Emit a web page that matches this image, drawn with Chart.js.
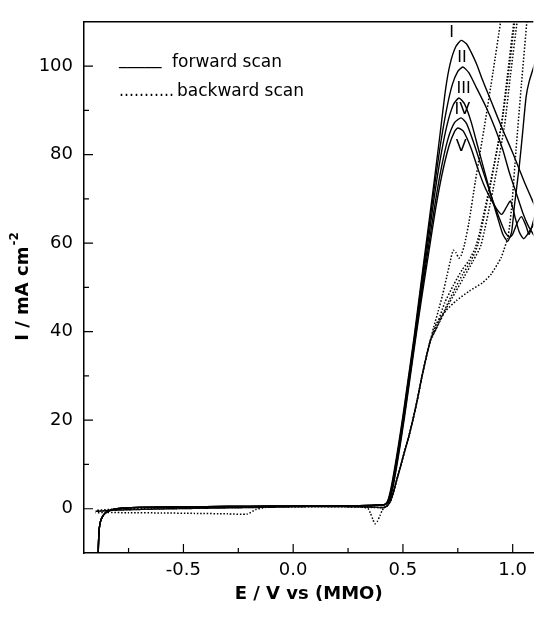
<!DOCTYPE html>
<html><head><meta charset="utf-8">
<script src="https://cdn.jsdelivr.net/npm/chart.js@4/dist/chart.umd.min.js"></script>
<style>html,body{margin:0;padding:0;background:#fff;overflow:hidden}#wrap{position:relative;width:534px;height:626px}</style>
</head><body><div id="wrap"><canvas id="c"></canvas></div>
<script>
// ---- tick values ----
const xMajorTicks = [-0.5, 0, 0.5, 1.0];
const xMinorTicks = [-0.75, -0.25, 0.25, 0.75];
const yMajorTicks = [0, 20, 40, 60, 80, 100];
const yMinorTicks = [10, 30, 50, 70, 90];

// ---- scan names ----
const scanNames = ['I', 'II', 'III', 'IV', 'V'];

// ---- forward scans (E / V, I / mA cm-2) ----
const forwardStart = [[-0.889,-30],[-0.888,-10],[-0.886,-6.5],[-0.883,-4.3],[-0.878,-2.9],[-0.870,-1.9],[-0.858,-1.1],[-0.843,-0.55],[-0.82,-0.15],[-0.78,0.1],[-0.70,0.3],[-0.50,0.4],[-0.30,0.5],[-0.10,0.55],[0.10,0.6],[0.30,0.7],[0.40,0.85],[0.42,1.0]];
const forwardI = [[0.432,2.0],[0.445,4.5],[0.46,8.5],[0.48,14.5],[0.50,21],[0.52,28],[0.55,38.5],[0.58,50],[0.61,61.5],[0.64,73],[0.67,85],[0.695,95],[0.715,100.5],[0.74,104.3],[0.765,105.8],[0.79,105],[0.81,103.2],[0.835,100.5],[0.86,97.2],[0.89,93.5],[0.925,89.2],[0.96,85],[1.0,80.4],[1.03,76.7],[1.06,73],[1.10,68.5]];
const forwardII = [[0.434,2.0],[0.447,4.5],[0.462,8.5],[0.482,14.5],[0.502,21],[0.522,28],[0.552,38.5],[0.582,50],[0.612,61],[0.64,71.5],[0.67,82],[0.70,90.5],[0.725,95.8],[0.75,98.8],[0.773,99.8],[0.80,98.5],[0.834,95.2],[0.879,90.7],[0.917,86.3],[0.955,81.1],[0.985,75.9],[1.015,71.5],[1.045,67],[1.07,64],[1.10,61.5]];
const forwardIII = [[0.436,2.0],[0.449,4.5],[0.464,8.5],[0.484,14.5],[0.504,21],[0.524,28],[0.554,38.5],[0.584,49.5],[0.614,60],[0.64,69.5],[0.67,79],[0.70,86.5],[0.73,91.3],[0.755,92.8],[0.78,91.5],[0.81,87.5],[0.84,82],[0.87,76.5],[0.90,71],[0.93,66],[0.955,62],[0.977,60.4],[0.995,62.5],[1.008,68.5],[1.03,77.4],[1.045,84.8],[1.061,93],[1.075,96.5],[1.10,100.5]];
const forwardIV = [[0.438,2.0],[0.451,4.5],[0.466,8.5],[0.486,14.5],[0.506,21],[0.526,28],[0.556,38.5],[0.586,49],[0.616,59],[0.645,68.5],[0.675,77],[0.705,83.5],[0.735,87.2],[0.765,88.3],[0.79,87],[0.82,83],[0.85,78.5],[0.88,74],[0.91,69.5],[0.94,65.5],[0.965,62.5],[0.985,61.3],[1.0,62],[1.02,64.5],[1.04,66],[1.06,64],[1.075,62],[1.10,66]];
const forwardV = [[0.44,2.0],[0.453,4.5],[0.468,8.5],[0.488,14.5],[0.508,21],[0.528,28],[0.558,38.5],[0.588,48.5],[0.618,58],[0.648,67.5],[0.678,75.5],[0.71,82],[0.735,85.2],[0.75,86],[0.775,85.3],[0.81,81.5],[0.84,77],[0.87,73],[0.90,70],[0.93,67.5],[0.95,66.5],[0.97,68],[0.99,69.5],[1.01,66],[1.03,62.5],[1.05,61],[1.065,61.8],[1.08,63],[1.10,64.5]];

// ---- backward scans (high potential -> low) ----
const backwardI = [[1.0,128],[0.947,110.7],[0.91,98.5],[0.871,86.3],[0.83,74],[0.80,64.5],[0.78,59.6],[0.765,57.2],[0.755,56.6],[0.742,57.8],[0.729,58.4],[0.716,56],[0.70,52.5],[0.68,48.2],[0.66,44.5],[0.64,41]];
const backwardII = [[1.06,128],[1.008,111],[0.975,97.5],[0.947,86.3],[0.90,73.5],[0.841,59.6],[0.81,56],[0.773,53],[0.74,50],[0.71,47],[0.68,43.8],[0.65,40.5]];
const backwardIII = [[1.075,128],[1.023,111],[0.99,98],[0.962,86.3],[0.91,72],[0.856,59.6],[0.82,56],[0.78,52.5],[0.74,49],[0.70,45.5],[0.67,42.5],[0.645,40]];
const backwardIV = [[1.09,128],[1.065,110.5],[1.04,96],[1.015,81],[0.997,69],[0.985,63.5],[0.977,61.1],[0.96,58.5],[0.947,56.7],[0.902,53],[0.864,51.1],[0.803,49.2],[0.743,47],[0.697,44.8],[0.652,41.8],[0.635,39.5]];
const backwardV = [[1.065,128],[1.012,111],[0.98,98],[0.95,87],[0.90,74],[0.85,62.5],[0.83,59],[0.80,56],[0.77,54],[0.73,50.5],[0.69,46.5],[0.655,41.5]];
const backwardRise = [[0.625,38],[0.605,34],[0.585,29.5],[0.565,24.5],[0.545,20],[0.525,16],[0.505,12.5],[0.487,9.2],[0.47,6.2],[0.456,3.6],[0.443,1.7],[0.429,0.7],[0.415,0.3]];
const backwardTailFlat = [[0.39,0.3],[0.30,0.45],[0.10,0.5],[-0.10,0.35],[-0.30,0.2],[-0.50,0.05],[-0.70,-0.15],[-0.82,-0.35],[-0.90,-0.6]];
const backwardTailDip = [[0.405,-0.4],[0.395,-1.6],[0.384,-2.8],[0.373,-3.4],[0.363,-2.4],[0.352,-1.0],[0.34,0.1],[0.30,0.45],[0.0,0.55],[-0.3,0.3],[-0.6,0.1],[-0.82,-0.1],[-0.90,-0.4]];
const backwardTailLow = [[0.39,0.25],[0.30,0.4],[0.10,0.45],[-0.05,0.45],[-0.13,0.3],[-0.17,-0.2],[-0.21,-1.2],[-0.30,-1.15],[-0.45,-1.05],[-0.60,-0.95],[-0.75,-0.9],[-0.85,-0.85],[-0.90,-0.9]];

// ---- annotation anchors (data coordinates) ----
const labelAnchors = {I:[0.722,107.5], II:[0.769,101.8], III:[0.776,94.8], IV:[0.771,90], V:[0.765,81.7]};

const FONT = 'DejaVu Sans';
const toXY = arr => arr.map(p => ({x: p[0], y: p[1]}));

const forwardSets = [forwardI, forwardII, forwardIII, forwardIV, forwardV].map((tail, i) => ({
  label: 'forward ' + scanNames[i],
  data: toXY(forwardStart.concat(tail)),
  borderColor: '#000', borderWidth: 1.4, pointRadius: 0, showLine: true, tension: 0.2, fill: false
}));
const backTails = [backwardTailDip, backwardTailLow, backwardTailFlat, backwardTailFlat, backwardTailFlat];
const backwardSets = [backwardI, backwardII, backwardIII, backwardIV, backwardV].map((head, i) => ({
  label: 'backward ' + scanNames[i],
  data: toXY(head.concat(backwardRise, backTails[i])),
  borderColor: '#000', borderWidth: 1.5, borderDash: [1.5, 1.8], pointRadius: 0, showLine: true, tension: 0.2, fill: false
}));

const decorations = {
  id: 'decorations',
  afterDraw(chart) {
    const {ctx, chartArea: a, scales: {x, y}} = chart;
    ctx.save();
    ctx.strokeStyle = '#000';
    ctx.lineWidth = 1.5;
    ctx.beginPath();
    ctx.moveTo(a.left, a.top); ctx.lineTo(a.right, a.top);
    ctx.stroke();
    ctx.lineWidth = 1.2;
    ctx.beginPath();
    xMajorTicks.forEach(v => { const p = x.getPixelForValue(v); ctx.moveTo(p, a.bottom); ctx.lineTo(p, a.bottom - 9); });
    xMinorTicks.forEach(v => { const p = x.getPixelForValue(v); ctx.moveTo(p, a.bottom); ctx.lineTo(p, a.bottom - 5); });
    yMajorTicks.forEach(v => { const p = y.getPixelForValue(v); ctx.moveTo(a.left, p); ctx.lineTo(a.left + 9, p); });
    yMinorTicks.forEach(v => { const p = y.getPixelForValue(v); ctx.moveTo(a.left, p); ctx.lineTo(a.left + 5, p); });
    ctx.stroke();

    // scan labels
    ctx.fillStyle = '#000';
    ctx.font = '16px "' + FONT + '"';
    ctx.textAlign = 'center';
    ctx.textBaseline = 'middle';
    scanNames.forEach(n => {
      const [vx, vy] = labelAnchors[n];
      ctx.fillText(n, x.getPixelForValue(vx), y.getPixelForValue(vy));
    });

    // legend text
    ctx.textAlign = 'left';
    ctx.textBaseline = 'alphabetic';
    ctx.font = '17px "' + FONT + '"';
    ctx.fillText('_____', 119, 63.5, 49);
    ctx.fillText('forward scan', 172, 67);
    ctx.fillText('...........', 119, 96, 55);
    ctx.fillText('backward scan', 177, 96);

    // y axis title with superscript
    ctx.save();
    ctx.translate(28, 286.5);
    ctx.rotate(-Math.PI / 2);
    const main = 'I / mA cm', sup = '-2';
    ctx.font = 'bold 18px "' + FONT + '"';
    const w1 = ctx.measureText(main).width;
    ctx.font = 'bold 12px "' + FONT + '"';
    const w2 = ctx.measureText(sup).width;
    const start = -(w1 + 1 + w2) / 2;
    ctx.font = 'bold 18px "' + FONT + '"';
    ctx.fillText(main, start, 0);
    ctx.font = 'bold 12px "' + FONT + '"';
    ctx.fillText(sup, start + w1 + 1, -10);
    ctx.restore();
    ctx.restore();
  }
};

new Chart(document.getElementById('c'), {
  type: 'scatter',
  data: { datasets: forwardSets.concat(backwardSets) },
  options: {
    responsive: true, maintainAspectRatio: false, animation: false, devicePixelRatio: 1,
    layout: { padding: { top: 11, right: 0, bottom: 0, left: 0 } },
    plugins: { legend: { display: false }, tooltip: { enabled: false } },
    scales: {
      x: {
        type: 'linear', position: 'bottom', min: -0.953, max: 1.094,
        grid: { display: false, drawTicks: false },
        border: { display: true, color: '#000', width: 1.5 },
        afterBuildTicks: s => { s.ticks = xMajorTicks.map(v => ({ value: v })); },
        afterFit: s => { s.height = 73; },
        ticks: { color: '#000', padding: 7, font: { family: FONT, size: 18 }, callback: v => Number(v).toFixed(1), maxRotation: 0 },
        title: { display: true, text: 'E / V vs (MMO)', color: '#000', font: { family: FONT, size: 18, weight: 'bold' }, padding: { top: 0, bottom: 21 } }
      },
      y: {
        type: 'linear', position: 'left', min: -10, max: 110,
        grid: { display: false, drawTicks: false },
        border: { display: true, color: '#000', width: 1.5 },
        afterBuildTicks: s => { s.ticks = yMajorTicks.map(v => ({ value: v })); },
        afterFit: s => { s.width = 84; },
        ticks: { color: '#000', padding: 11, font: { family: FONT, size: 18 }, callback: v => String(v) },
        title: { display: false }
      }
    }
  },
  plugins: [decorations]
});
</script>
</body></html>
